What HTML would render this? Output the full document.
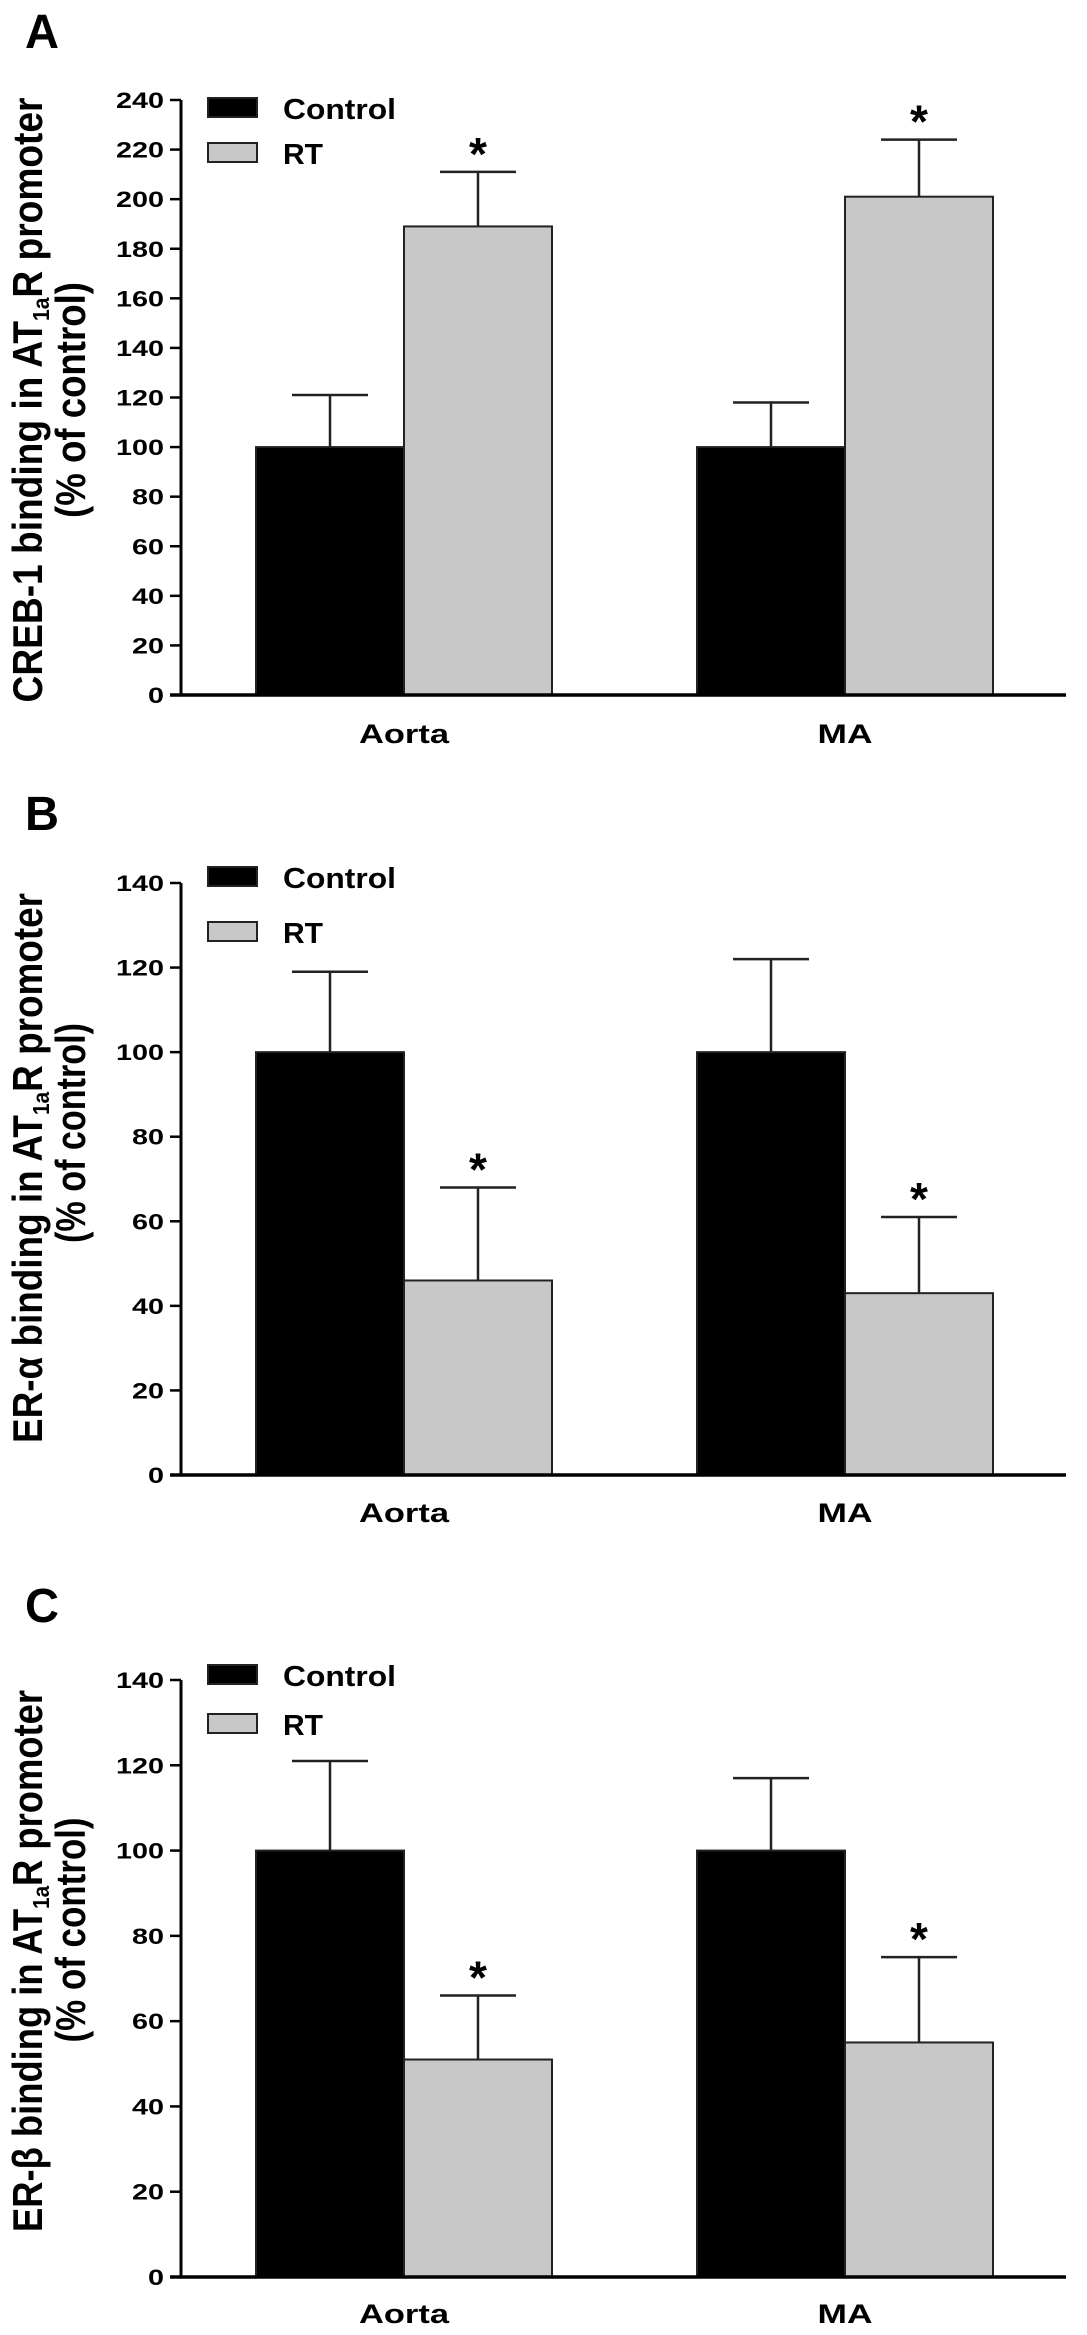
<!DOCTYPE html>
<html><head><meta charset="utf-8"><style>
html,body{margin:0;padding:0;background:#fff;}
svg{display:block;font-family:"Liberation Sans",Arial,sans-serif;font-weight:bold;}
</style></head><body>
<svg id="fig" width="1087" height="2335" viewBox="0 0 1087 2335" xmlns="http://www.w3.org/2000/svg"></svg>
<script>
const categories = ["Aorta", "MA"];
const seriesNames = ["Control", "RT"];
// Panel A: CREB-1
const aControl = [100, 100];
const aControlErr = [121, 118];
const aRT = [189, 201];
const aRTErr = [211, 224];
const aTicks = [0,20,40,60,80,100,120,140,160,180,200,220,240];
// Panel B: ER-alpha
const bControl = [100, 100];
const bControlErr = [119, 122];
const bRT = [46, 43];
const bRTErr = [68, 61];
const bTicks = [0,20,40,60,80,100,120,140];
// Panel C: ER-beta
const cControl = [100, 100];
const cControlErr = [121, 117];
const cRT = [51, 55];
const cRTErr = [66, 75];
const cTicks = [0,20,40,60,80,100,120,140];

const NS = "http://www.w3.org/2000/svg";
const svg = document.getElementById("fig");
function mk(tag, attrs, parent, txt){
  const e = document.createElementNS(NS, tag);
  for (const k in attrs) e.setAttribute(k, attrs[k]);
  if (txt !== undefined) e.textContent = txt;
  (parent||svg).appendChild(e);
  return e;
}

const panels = [
  {id:"a", letter:"A", letterY:48, y0:695, yTop:100, max:240, ticks:aTicks, ctrl:aControl, ctrlE:aControlErr, rt:aRT, rtE:aRTErr,
   title1:"CREB-1 binding in AT", t1c:400, t1len:605, t2c:400, t2len:236, legY:[98,143], catY:743},
  {id:"b", letter:"B", letterY:830, y0:1475, yTop:883, max:140, ticks:bTicks, ctrl:bControl, ctrlE:bControlErr, rt:bRT, rtE:bRTErr,
   title1:"ER-\u03b1 binding in AT", t1c:1168, t1len:550, t2c:1133, t2len:220, legY:[867,922], catY:1522},
  {id:"c", letter:"C", letterY:1622, y0:2277, yTop:1680, max:140, ticks:cTicks, ctrl:cControl, ctrlE:cControlErr, rt:cRT, rtE:cRTErr,
   title1:"ER-\u03b2 binding in AT", t1c:1961, t1len:542, t2c:1930, t2len:225, legY:[1665,1714], catY:2323}
];

const axisX = 181, axisEnd = 1066;
const groupLeft = [256, 697];
const barW = 148;

panels.forEach(p => {
  const g = mk("g", {});
  
  
  const yScale = v => p.y0 - (p.y0 - p.yTop) * v / p.max;

  const L = mk("text", {x:25, y:p.letterY, "font-size":48, textLength:34, lengthAdjust:"spacingAndGlyphs"}, g, p.letter);
  
  

  const t1 = mk("text", {transform:`translate(42,${p.t1c}) scale(1.38,1) rotate(-90)`, "text-anchor":"middle", "font-size":30, textLength:p.t1len, lengthAdjust:"spacingAndGlyphs"}, g);
  
  
  mk("tspan", {}, t1, p.title1);
  mk("tspan", {"font-size":17, dy:5}, t1, "1a");
  mk("tspan", {dy:-5}, t1, "R promoter");
  const t2 = mk("text", {transform:`translate(85,${p.t2c}) scale(1.38,1) rotate(-90)`, "text-anchor":"middle", "font-size":30, textLength:p.t2len, lengthAdjust:"spacingAndGlyphs"}, g, "(% of control)");
  
  

  const ya = mk("line", {x1:axisX, y1:p.yTop, x2:axisX, y2:p.y0, stroke:"#000", "stroke-width":3}, g);
  
  
  p.ticks.forEach(t => {
    const y = yScale(t);
    const tk = mk("line", {x1:170, y1:y, x2:axisX, y2:y, stroke:"#000", "stroke-width":2.5}, g);
    
    
    const s = String(t);
    const lb = mk("text", {x:164, y:y+8, "text-anchor":"end", "font-size":22, textLength:16*s.length, lengthAdjust:"spacingAndGlyphs"}, g, s);
    
    
  });

  categories.forEach((c, i) => {
    const series = [[p.ctrl[i], p.ctrlE[i], "#000"], [p.rt[i], p.rtE[i], "#c8c8c8"]];
    series.forEach((s, j) => {
      const x = groupLeft[i] + j * barW;
      const yv = yScale(s[0]), ye = yScale(s[1]);
      const cx = x + barW / 2;
      const eb = mk("line", {x1:cx, y1:yv, x2:cx, y2:ye, stroke:"#222", "stroke-width":2.5}, g);
      
      
      const cap = mk("line", {x1:cx-38, y1:ye, x2:cx+38, y2:ye, stroke:"#222", "stroke-width":2.5}, g);
      
      
      const r = mk("rect", {x:x, y:yv, width:barW, height:p.y0 - yv, fill:s[2], stroke:"#222", "stroke-width":2}, g);
      
      
      if (j === 1) {
        const st = mk("text", {x:cx, y:ye - 2, "text-anchor":"middle", "font-size":46}, g, "*");
        
        
      }
    });
    const cl = mk("text", {x:groupLeft[i] + barW, y:p.catY, "text-anchor":"middle", "font-size":27, textLength:(c === "MA" ? 55 : 90), lengthAdjust:"spacingAndGlyphs"}, g, c);
    
    
  });

  const xa = mk("line", {x1:170, y1:p.y0, x2:axisEnd, y2:p.y0, stroke:"#000", "stroke-width":3.5}, g);
  
  

  seriesNames.forEach((n, j) => {
    const ly = p.legY[j];
    const box = mk("rect", {x:208, y:ly, width:49, height:19, fill:(j ? "#c8c8c8" : "#000"), stroke:"#222", "stroke-width":2}, g);
    
    
    const lt = mk("text", {x:283, y:ly + 21, "font-size":29, textLength:(j ? 40 : 113), lengthAdjust:"spacingAndGlyphs"}, g, n);
    
    
  });
});
</script>
</body></html>
